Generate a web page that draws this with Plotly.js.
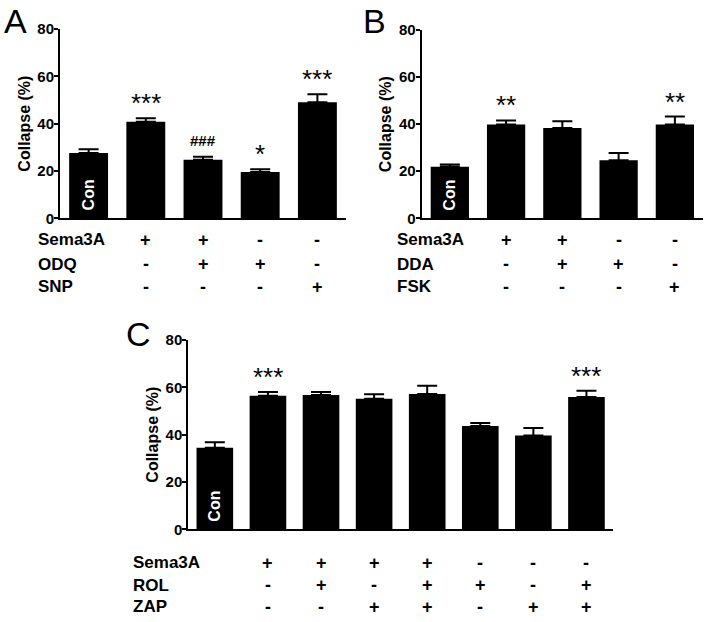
<!DOCTYPE html>
<html>
<head>
<meta charset="utf-8">
<script src="https://cdn.plot.ly/plotly-3.0.1.min.js"></script>
<style>html,body{margin:0;padding:0;background:#fff;}#chart{width:709px;height:622px;}</style>
</head>
<body>
<div id="chart"></div>
<script>
// ---- Data ----
const catsA = ['Con', 'Sema3A', 'Sema3A+ODQ', 'ODQ', 'SNP'];
const valuesA = [27.6, 40.8, 24.7, 19.6, 49.0];
const errA = [1.6, 1.5, 1.3, 1.1, 3.4];
const sigA = ['', '***', '###', '*', '***'];
const rowLabelsA = ['Sema3A', 'ODQ', 'SNP'];
const rowSignsA = [
  ['', '+', '+', '-', '-'],
  ['', '-', '+', '+', '-'],
  ['', '-', '-', '-', '+']
];

const catsB = ['Con', 'Sema3A', 'Sema3A+DDA', 'DDA', 'FSK'];
const valuesB = [21.9, 39.9, 38.4, 24.7, 39.9];
const errB = [1.0, 1.7, 2.8, 3.0, 3.3];
const sigB = ['', '**', '', '', '**'];
const rowLabelsB = ['Sema3A', 'DDA', 'FSK'];
const rowSignsB = [
  ['', '+', '+', '-', '-'],
  ['', '-', '+', '+', '-'],
  ['', '-', '-', '-', '+']
];

const catsC = ['Con', 'Sema3A', 'Sema3A+ROL', 'Sema3A+ZAP', 'Sema3A+ROL+ZAP', 'ROL', 'ZAP', 'ROL+ZAP'];
const valuesC = [34.5, 56.4, 56.8, 55.2, 57.2, 43.7, 39.6, 55.9];
const errC = [2.3, 1.6, 1.2, 1.9, 3.5, 1.2, 3.2, 2.7];
const sigC = ['', '***', '', '', '', '', '', '***'];
const rowLabelsC = ['Sema3A', 'ROL', 'ZAP'];
const rowSignsC = [
  ['', '+', '+', '+', '+', '-', '-', '-'],
  ['', '-', '+', '-', '+', '+', '-', '+'],
  ['', '-', '-', '+', '+', '-', '+', '+']
];

const yTicks = [0, 20, 40, 60, 80];
const yTitle = 'Collapse (%)';
const conLabel = 'Con';

// ---- Styling / layout ----
const FONT = 'Liberation Sans, Arial, sans-serif';
const W = 709, H = 622;
const px = v => v / W;
const py = v => 1 - v / H;

function barTrace(cats, vals, errs, xa, ya, width) {
  return {
    type: 'bar', x: cats, y: vals, xaxis: xa, yaxis: ya,
    width: width,
    marker: {color: '#000', line: {width: 0}},
    error_y: {type: 'data', symmetric: false, array: errs, arrayminus: errs.map(() => 0),
              color: '#000', thickness: 2, width: 10},
    hoverinfo: 'none', showlegend: false
  };
}

const data = [
  barTrace(catsA, valuesA, errA, 'x', 'y', 0.68),
  barTrace(catsB, valuesB, errB, 'x2', 'y2', 0.68),
  barTrace(catsC, valuesC, errC, 'x3', 'y3', 0.69)
];

function yAxis(domain, anchor) {
  return {
    domain: domain, anchor: anchor, range: [0, 80], tickvals: yTicks,
    showline: true, linewidth: 2, linecolor: '#000', ticks: 'outside', ticklen: 4, tickwidth: 2, tickcolor: '#000',
    ticklabelstandoff: -3,
    showgrid: false, zeroline: false,
    tickfont: {family: FONT, size: 15, color: '#000', weight: 'bold'},
    title: {text: yTitle, font: {family: FONT, size: 16, color: '#000', weight: 'bold'}, standoff: 3}
  };
}
function xAxis(domain, anchor, n) {
  return {
    domain: domain, anchor: anchor, type: 'category', range: [-0.5, n - 0.5],
    showline: true, linewidth: 2, linecolor: '#000', ticks: '', showticklabels: false,
    showgrid: false, zeroline: false
  };
}

const annotations = [];
function addPanel(cats, vals, errs, sigs, labels, signs, xref, yref, labelX, rowYs, letter, letterX, letterY) {
  // significance markers
  cats.forEach((c, i) => {
    if (!sigs[i]) return;
    const isHash = sigs[i].indexOf('#') >= 0;
    annotations.push({
      x: c, y: vals[i] + errs[i], xref: xref, yref: yref, text: sigs[i], showarrow: false,
      xanchor: 'center', yanchor: 'bottom', yshift: isHash ? 6 : -2,
      font: isHash ? {family: FONT, size: 15, color: '#000', weight: 'bold'} : {family: FONT, size: 26, color: '#000'}
    });
  });
  // Con label inside first bar
  annotations.push({
    x: cats[0], y: 0, xref: xref, yref: yref, text: conLabel, showarrow: false, textangle: -90,
    xanchor: 'center', yanchor: 'bottom', yshift: 6,
    font: {family: FONT, size: 16, color: '#fff', weight: 'bold'}
  });
  // treatment table
  labels.forEach((lab, r) => {
    annotations.push({
      x: labelX, y: rowYs[r], xref: 'paper', yref: 'paper', text: lab, showarrow: false,
      xanchor: 'left', yanchor: 'middle', borderpad: 0,
      font: {family: FONT, size: 17, color: '#000', weight: 'bold'}
    });
    signs[r].forEach((s, i) => {
      if (!s) return;
      annotations.push({
        x: cats[i], y: rowYs[r], xref: xref, yref: 'paper', text: s, showarrow: false,
        xanchor: 'center', yanchor: 'middle', borderpad: 0,
        font: {family: FONT, size: 18, color: '#000', weight: 'bold'}
      });
    });
  });
  // panel letter
  annotations.push({
    x: letterX, y: letterY, xref: 'paper', yref: 'paper', text: letter, showarrow: false,
    xanchor: 'left', yanchor: 'middle',
    font: {family: FONT, size: 34, color: '#000'}
  });
}

addPanel(catsA, valuesA, errA, sigA, rowLabelsA, rowSignsA, 'x', 'y', px(37), [py(240), py(264), py(287)], 'A', px(2), py(21));
addPanel(catsB, valuesB, errB, sigB, rowLabelsB, rowSignsB, 'x2', 'y2', px(396), [py(240), py(264), py(287)], 'B', px(361), py(21));
addPanel(catsC, valuesC, errC, sigC, rowLabelsC, rowSignsC, 'x3', 'y3', px(132), [py(562.7), py(585), py(606.7)], 'C', px(124), py(334));

const layout = {
  width: W, height: H,
  margin: {l: 0, r: 0, t: 0, b: 0},
  paper_bgcolor: '#fff', plot_bgcolor: 'rgba(0,0,0,0)',
  font: {family: FONT, color: '#000'},
  showlegend: false,
  xaxis: xAxis([px(60), px(346)], 'y', catsA.length),
  yaxis: yAxis([py(218.3), py(29)], 'x'),
  xaxis2: xAxis([px(421.7), px(703)], 'y2', catsB.length),
  yaxis2: yAxis([py(218.3), py(30)], 'x2'),
  xaxis3: xAxis([px(188.3), px(613)], 'y3', catsC.length),
  yaxis3: yAxis([py(529.3), py(340)], 'x3'),
  annotations: annotations
};

Plotly.newPlot('chart', data, layout, {displayModeBar: false, staticPlot: true});
</script>
</body>
</html>
